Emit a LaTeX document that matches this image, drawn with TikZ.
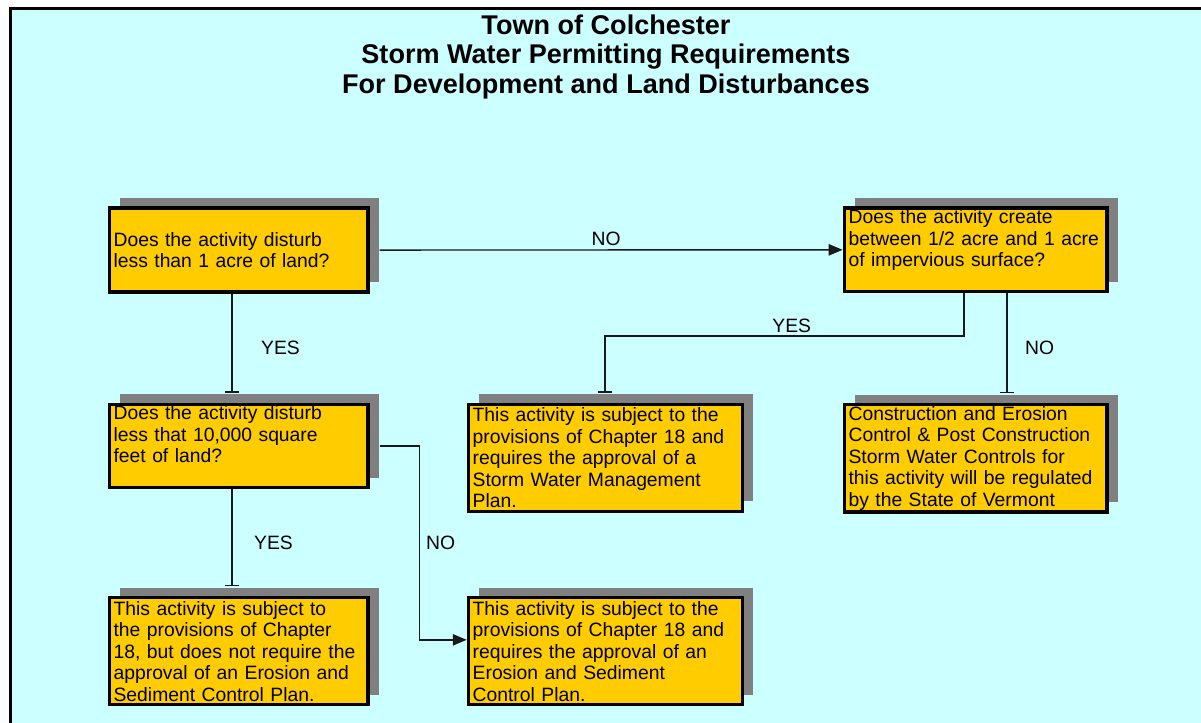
\documentclass[tikz,border=0pt]{standalone}
\usepackage{fontspec}
\setmainfont{Liberation Sans}
\usepackage{tikz}
\usetikzlibrary{arrows,arrows.meta,shadows,positioning}
\definecolor{skyback}{HTML}{CCFFFF}
\definecolor{boxgold}{HTML}{FFCC00}
\definecolor{shadegray}{HTML}{808080}

\begin{document}
\begin{tikzpicture}[x=0.02cm,y=-0.02cm,>=triangle 45]
  \tikzstyle{box}=[rectangle,draw=black,line width=1.8pt,fill=boxgold,
  			  general shadow={fill=shadegray,shadow xshift=0.22cm,shadow yshift=0.2cm},
  			  align=left,inner xsep=0.09cm,inner ysep=1pt,
  			  font=\fontsize{11}{12.2}\selectfont]
  \tikzstyle{left box}=[box,text width=5.0cm]
  \tikzstyle{mid box}=[box,text width=5.3cm]
  \tikzstyle{right box}=[box,text width=5.08cm]
  \tikzstyle{flow}=[line width=0.8pt,draw=black!90]
  \tikzstyle{stop}=[-{Bar[width=0.28cm]}]
  \tikzstyle{answer}=[font=\fontsize{11}{12}\selectfont]
  % page and frame
  \useasboundingbox (0,0) rectangle (1201,723);
  \fill[white] (0,0) rectangle (1201,723);
  \draw[line width=2pt,fill=skyback] (10.5,8.5) rectangle (1240,760);
  \node[font=\fontsize{15.4}{17}\selectfont\bfseries,align=center] (title) at (606,57)
    {Town of Colchester\\Storm Water Permitting Requirements\\For Development and Land Disturbances};
  % questions and outcomes
  \node[left box,minimum height=1.68cm,anchor=north west] (q1) at (107.5,206.5)
    {Does the activity disturb\\less than 1 acre of land?};
  \node[right box,text depth=1.32cm,right=9.46cm of q1.north east,anchor=north west] (q2)
    {Does the activity create\\between 1/2 acre and 1 acre\\of impervious surface?};
  \node[left box,text depth=1.32cm,below=2.18cm of q1.south west,anchor=north west] (q3)
    {Does the activity disturb\\less that 10,000 square\\feet of land?};
  \node[mid box,minimum height=2.14cm,right=1.94cm of q3.north east,anchor=north west] (stormplan)
    {This activity is subject to the\\provisions of Chapter 18 and\\requires the approval of a\\Storm Water Management\\Plan.};
  \node[right box,minimum height=2.14cm,below=2.2cm of q2.south west,anchor=north west] (state)
    {Construction and Erosion\\Control \& Post Construction\\Storm Water Controls for\\this activity will be regulated\\by the State of Vermont};
  \node[left box,minimum height=2.14cm,below=2.14cm of q3.south west,anchor=north west] (noplan)
    {This activity is subject to\\the provisions of Chapter\\18, but does not require the\\approval of an Erosion and\\Sediment Control Plan.};
  \node[mid box,minimum height=2.14cm,right=1.94cm of noplan.north east,anchor=north west] (erosionplan)
    {This activity is subject to the\\provisions of Chapter 18 and\\requires the approval of an\\Erosion and Sediment\\Control Plan.};
  % connectors
  \draw[flow,->,shorten <=0.2cm] (q1.east) -- node[above=-1.5pt,answer] {NO} (q2.west);
  \draw[flow,stop,shorten >=0.2cm] ([xshift=-0.13cm]q1.south) -- node[right=0.45cm,answer] {YES} ([xshift=-0.13cm]q3.north);
  \draw[flow,stop,shorten >=0.2cm] ([xshift=-0.23cm]q2.south) -- ++(0,43) -| node[pos=0.24,above=-1.5pt,answer] {YES} (stormplan.north);
  \draw[flow,stop,shorten >=0.2cm] ([xshift=0.63cm]q2.south) -- node[right=0.23cm,answer] {NO} ([xshift=0.63cm]state.north);
  \draw[flow,stop,shorten >=0.2cm] ([xshift=-0.13cm]q3.south) -- node[right=0.31cm,answer] {YES} ([xshift=-0.13cm]noplan.north);
  \draw[flow,->,shorten <=0.2cm] (q3.east) -- ++(50,0) |- node[pos=0.25,right,answer] {NO} ([yshift=0.23cm]erosionplan.west);
\end{tikzpicture}
\end{document}
